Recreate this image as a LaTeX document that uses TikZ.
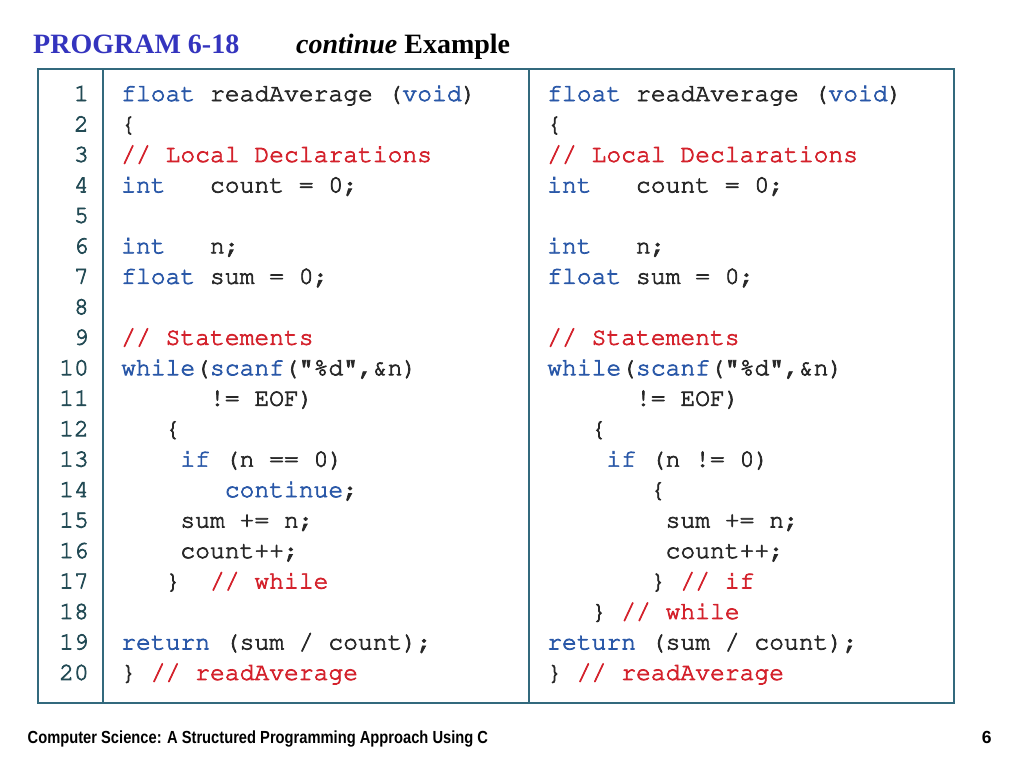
\documentclass[tikz,border=0pt]{standalone}
\usepackage[T1]{fontenc}
\usepackage{fontspec}
\setmainfont{Liberation Serif}
\newcommand{\courfont}{\fontencoding{T1}\fontfamily{pcr}\fontseries{m}\fontshape{n}\selectfont}
\newcommand{\heavy}{\special{pdf:literal direct 2 Tr 0.7 w}}
\newfontfamily\footfont{Liberation Sans}
\definecolor{kw}{RGB}{42,88,168}
\definecolor{cm}{RGB}{212,34,44}
\definecolor{txt}{RGB}{40,40,40}
\definecolor{lnc}{RGB}{35,75,85}
\definecolor{frm}{RGB}{50,105,125}
\definecolor{ttl}{RGB}{52,52,190}
\newcommand{\K}[1]{\textcolor{kw}{#1}}
\newcommand{\Cm}[1]{\textcolor{cm}{#1}}
\tikzset{
  code/.style={anchor=base west,inner sep=0pt,font=\courfont\fontsize{24.67}{26}\selectfont\heavy,text=txt},
  lnum/.style={anchor=base east,inner sep=0pt,font=\courfont\fontsize{24.67}{26}\selectfont\heavy,text=lnc},
  frame/.style={draw=frm,line width=2pt},
  titleblue/.style={anchor=base west,inner sep=0pt,font=\bfseries\fontsize{28}{30}\selectfont,text=ttl},
  titleblack/.style={anchor=base west,inner sep=0pt,font=\fontsize{28}{30}\selectfont,text=black},
  foot/.style={inner sep=0pt,font=\footfont\bfseries\fontsize{17.5}{19}\selectfont,text=black}
}
\begin{document}
\begin{tikzpicture}[x=1pt,y=-1pt]
\useasboundingbox[fill=white] (0,0) rectangle (1024,768);
% title
\node[titleblue] (t1) at (33,53.5) {PROGRAM 6-18};
\node[titleblack] (t2) at (296,53.5) {\textbf{\textit{continue}} \textbf{Example}};
% frame
\draw[frame] (37.7,69) rectangle (954.3,702.7);
\draw[frame] (103.3,69) -- (103.3,702.7);
\draw[frame] (529,69) -- (529,702.7);
% line numbers
\foreach \i in {1,...,20}
  \node[lnum] (n\i) at (89,{101+30.47*(\i-1)}) {\i};
% left column
\def\cw{14.8}
\node[code] (a1) at (121,{101+30.47*0}) {\K{float} readAverage (\K{void})};
\node[code] (a2) at (121,{101+30.47*1}) {\{};
\node[code] (a3) at (121,{101+30.47*2}) {\Cm{// Local Declarations}};
\node[code] (a4) at (121,{101+30.47*3}) {\K{int}\ \ \ count = 0;};
\node[code] (a6) at (121,{101+30.47*5}) {\K{int}\ \ \ n;};
\node[code] (a7) at (121,{101+30.47*6}) {\K{float} sum = 0;};
\node[code] (a9) at (121,{101+30.47*8}) {\Cm{// Statements}};
\node[code] (a10) at (121,{101+30.47*9}) {\K{while}(\K{scanf}("\%d",\&n)};
\node[code] (a11) at ({121+6*\cw},{101+30.47*10}) {!= EOF)};
\node[code] (a12) at ({121+3*\cw},{101+30.47*11}) {\{};
\node[code] (a13) at ({121+4*\cw},{101+30.47*12}) {\K{if} (n == 0)};
\node[code] (a14) at ({121+7*\cw},{101+30.47*13}) {\K{continue};};
\node[code] (a15) at ({121+4*\cw},{101+30.47*14}) {sum += n;};
\node[code] (a16) at ({121+4*\cw},{101+30.47*15}) {count++;};
\node[code] (a17) at ({121+3*\cw},{101+30.47*16}) {\}\ \ \Cm{// while}};
\node[code] (a19) at (121,{101+30.47*18}) {\K{return} (sum / count);};
\node[code] (a20) at (121,{101+30.47*19}) {\} \Cm{// readAverage}};
% right column
\node[code] (b1) at (547,{101+30.47*0}) {\K{float} readAverage (\K{void})};
\node[code] (b2) at (547,{101+30.47*1}) {\{};
\node[code] (b3) at (547,{101+30.47*2}) {\Cm{// Local Declarations}};
\node[code] (b4) at (547,{101+30.47*3}) {\K{int}\ \ \ count = 0;};
\node[code] (b6) at (547,{101+30.47*5}) {\K{int}\ \ \ n;};
\node[code] (b7) at (547,{101+30.47*6}) {\K{float} sum = 0;};
\node[code] (b9) at (547,{101+30.47*8}) {\Cm{// Statements}};
\node[code] (b10) at (547,{101+30.47*9}) {\K{while}(\K{scanf}("\%d",\&n)};
\node[code] (b11) at ({547+6*\cw},{101+30.47*10}) {!= EOF)};
\node[code] (b12) at ({547+3*\cw},{101+30.47*11}) {\{};
\node[code] (b13) at ({547+4*\cw},{101+30.47*12}) {\K{if} (n != 0)};
\node[code] (b14) at ({547+7*\cw},{101+30.47*13}) {\{};
\node[code] (b15) at ({547+8*\cw},{101+30.47*14}) {sum += n;};
\node[code] (b16) at ({547+8*\cw},{101+30.47*15}) {count++;};
\node[code] (b17) at ({547+7*\cw},{101+30.47*16}) {\} \Cm{// if}};
\node[code] (b18) at ({547+3*\cw},{101+30.47*17}) {\} \Cm{// while}};
\node[code] (b19) at (547,{101+30.47*18}) {\K{return} (sum / count);};
\node[code] (b20) at (547,{101+30.47*19}) {\} \Cm{// readAverage}};
% footer
\node[foot,anchor=base west] (f1) at (27.5,743.3) {\scalebox{0.84}[1]{Computer Science: A Structured Programming Approach Using C}};
\node[foot,anchor=base] (f2) at (986.7,743.3) {6};
\end{tikzpicture}
\end{document}
